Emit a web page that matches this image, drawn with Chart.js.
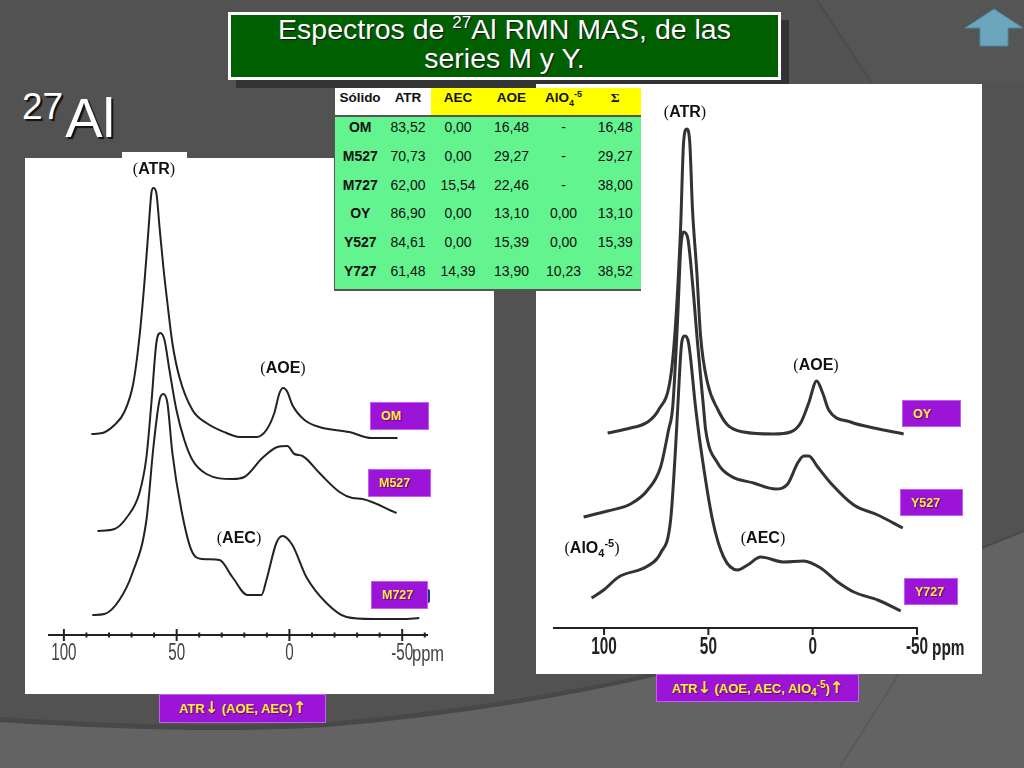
<!DOCTYPE html>
<html lang="es">
<head>
  <meta charset="UTF-8">
  <title>Espectros de 27Al RMN MAS</title>
  <script src="https://cdn.jsdelivr.net/npm/chart.js"></script>
  <style>
    html, body { margin: 0; padding: 0; }
    body { width: 1024px; height: 768px; background: #525252; position: relative; overflow: hidden;
           font-family: "Liberation Sans", Arial, sans-serif; }
    .abs { position: absolute; }
    .deco { position: absolute; left: 0; top: 0; width: 1024px; height: 768px; }
    .panel { position: absolute; background: #fff; }
    .title { left: 228px; top: 12px; width: 547px; height: 62px; background: #006000; border: 3px solid #fff;
             box-shadow: 8px 8px 0 #333; color: #fff; text-align: center; font-size: 28.5px; line-height: 29px;
             text-shadow: 1px 1px 1px #111; }
    .title sup { font-size: 17px; line-height: 0; vertical-align: 11px; }
    .big { left: 22px; top: 87px; color: #fff; font-size: 56px; line-height: 62px; text-shadow: 2px 2px 1px #111; }
    .big sup { font-size: 37px; line-height: 0; vertical-align: 18px; margin-right: 2px; }
    .tag { position: absolute; background: #9b14d8; border: 1px solid #c65cf0; box-sizing: border-box; color: #ffec3c;
           font-weight: bold; font-size: 12.5px; text-shadow: 1px 1px 1px #5a0a70; display: flex; align-items: center; }
    .tag.c { justify-content: center; font-size: 13px; white-space: pre; }
    .tag sub, .tag sup { font-size: 10px; position: relative; vertical-align: baseline; }
    .tag sub { top: 3px; }
    .tag sup { top: -5px; }
    .tag b { font-size: 16px; line-height: 0; font-family: "DejaVu Sans", sans-serif; }
    .note { position: absolute; transform: translate(-50%, -50%); color: #111; font-weight: bold; font-size: 16px; white-space: nowrap; }
    .note i { font-family: "Liberation Serif", serif; font-style: normal; font-weight: normal; }
    .note sub, .note sup { font-size: 11px; line-height: 0; }
    .ppm { position: absolute; transform-origin: left center; transform: translateY(-50%) scaleX(0.75); }
    table { position: absolute; left: 334px; top: 88px; width: 307px; height: 203px; border-collapse: collapse; table-layout: fixed;
            font-size: 14px; color: #111; text-align: center; background: #63f490; box-shadow: inset 1px 0 #555; }
    th, td { padding: 0 0 8px 0; }
    thead th { background: #ffff00; font-size: 13.5px; height: 19px; border-bottom: 2px solid #555; }
    thead th.w { background: #fff; }
    tbody { border-left: 1px solid #555; border-bottom: 2px solid #555; }
    td.n { font-weight: bold; }
    table sub, table sup { font-size: 9px; line-height: 0; }
    canvas { position: absolute; display: block; }
  </style>
</head>
<body>

<svg class="deco" viewBox="0 0 1024 768">
  <polygon points="817,0 872,83 1024,83 1024,0" fill="#555"/>
  <line x1="817" y1="0" x2="872" y2="83" stroke="#4c4c4c" stroke-width="2"/>
  <path d="M0 717 Q200 730 327 722 Q500 707 653 673 Q820 607 982 547 L1024 530 L1024 768 L0 768 Z" fill="#484848"/>
  <path d="M0 722 Q200 735 327 727 Q500 712 653 677 Q820 610 982 549 L1024 532 L1024 768 L0 768 Z" fill="#636363"/>
  <path d="M840 767 Q870 720 900 672" fill="none" stroke="#5a5a5a" stroke-width="2"/>
</svg>

<!-- home arrow -->
<svg class="abs" style="left:965px;top:6px" width="59" height="42" viewBox="0 0 59 42">
  <polygon points="29,3 58,22 43,22 43,40 15,40 15,22 0,22" fill="#6ba6bd" stroke="#4d8aa0" stroke-width="1"/>
</svg>

<div class="abs title">Espectros de <sup>27</sup>Al RMN MAS, de las<br>series M y Y.</div>
<div class="abs big"><sup>27</sup>Al</div>

<div class="panel" style="left:25px;top:158px;width:469px;height:536px"></div>
<div class="panel" style="left:122px;top:152px;width:65px;height:8px"></div>
<div class="panel" style="left:536px;top:84px;width:446px;height:590px"></div>

<canvas id="leftChart" width="469" height="536" style="left:25px;top:158px"></canvas>
<canvas id="rightChart" width="446" height="590" style="left:536px;top:84px"></canvas>

<table id="dataTable"><thead></thead><tbody></tbody></table>

<div class="note" style="left:154px;top:169px"><i>(</i>ATR<i>)</i></div>
<div class="note" style="left:283px;top:368px"><i>(</i>AOE<i>)</i></div>
<div class="note" style="left:239px;top:538px"><i>(</i>AEC<i>)</i></div>
<div class="note" style="left:685px;top:112px"><i>(</i>ATR<i>)</i></div>
<div class="note" style="left:816px;top:365px"><i>(</i>AOE<i>)</i></div>
<div class="note" style="left:763px;top:538px"><i>(</i>AEC<i>)</i></div>
<div class="note" style="left:592px;top:548px"><i>(</i>AlO<sub>4</sub><sup>-5</sup><i>)</i></div>

<div class="ppm" style="left:412px;top:654px;font-size:22px;color:#444">ppm</div>
<div class="ppm" style="left:932px;top:648px;font-size:22px;font-weight:bold;color:#222;transform:translateY(-50%) scaleX(0.7)">ppm</div>

<div class="abs" style="left:428px;top:589px;width:2px;height:14px;border-radius:0 3px 3px 0;background:#123a80"></div>
<div class="tag" style="left:370px;top:402px;width:59px;height:28px;padding-left:10px">OM</div>
<div class="tag" style="left:368px;top:469px;width:63px;height:28px;padding-left:10px">M527</div>
<div class="tag" style="left:371px;top:581px;width:57px;height:28px;padding-left:10px">M727</div>
<div class="tag" style="left:902px;top:400px;width:59px;height:27px;padding-left:10px">OY</div>
<div class="tag" style="left:900px;top:489px;width:63px;height:27px;padding-left:10px">Y527</div>
<div class="tag" style="left:904px;top:578px;width:54px;height:27px;padding-left:10px">Y727</div>
<div class="tag c" style="left:159px;top:694px;width:167px;height:29px"><span>ATR<b>↓</b> (AOE, AEC)<b>↑</b></span></div>
<div class="tag c" style="left:656px;top:674px;width:203px;height:28px"><span>ATR<b>↓</b> (AOE, AEC, AlO<sub>4</sub><sup>-5</sup>)<b>↑</b></span></div>

<script>
  // Left spectra: chemical shift (ppm) and relative intensity
  const omPpm = [87.8, 82.9, 77.6, 73.2, 69.2, 66.5, 64.3, 62.5, 61.2, 60.3, 59.0, 57.6, 55.9, 54.1, 51.9, 48.8, 43.0, 36.8, 27.9, 22.2, 14.6, 10.2, 6.7, 4.4, 2.7, 0.9, -1.3, -6.7, -13.3, -26.6, -36.4, -47.9];
  const omInt = [201, 202, 210, 223, 252, 298, 352, 405, 442, 447, 442, 408, 368, 332, 292, 258, 225, 212, 202, 198, 198, 205, 222, 242, 247, 243, 230, 215, 208, 203, 197, 197];

  const m527Ppm = [85.1, 77.6, 72.3, 66.5, 63.4, 61.2, 59.0, 57.2, 55.4, 53.2, 50.1, 46.6, 43.0, 36.8, 25.3, 20.0, 12.0, 5.3, 0.9, -2.2, -5.8, -13.3, -22.2, -27.9, -32.4, -47.5];
  const m527Int = [104, 106, 117, 142, 178, 232, 292, 302, 295, 265, 225, 195, 175, 161, 156, 158, 177, 188, 189, 181, 179, 162, 143, 137, 136, 122];

  const m727Ppm = [87.4, 82.0, 75.4, 69.6, 63.4, 60.3, 57.6, 55.9, 54.1, 51.9, 47.9, 43.5, 38.6, 31.0, 25.3, 18.6, 12.4, 10.2, 5.8, 3.1, -1.3, -7.5, -16.4, -25.3, -36.8, -50.1, -57.6];
  const m727Int = [20, 21, 35, 62, 115, 188, 235, 241, 232, 182, 125, 85, 76, 75, 58, 40, 40, 55, 92, 99, 90, 58, 32, 18, 16, 16, 17];

  // Right spectra
  const oyPpm = [98.3, 87.3, 79.1, 73.9, 68.1, 65.7, 63.3, 61.9, 60.4, 59.0, 57.6, 55.6, 53.7, 50.4, 45.6, 40.8, 33.1, 18.7, 10.6, 5.8, 1.9, -1.9, -4.8, -7.7, -18.2, -29.3, -43.6];
  const oyInt = [195, 200, 206, 218, 251, 305, 401, 485, 499, 488, 418, 358, 291, 245, 219, 203, 196, 194, 196, 205, 225, 247, 235, 218, 206, 200, 194];

  const y527Ppm = [109.8, 98.3, 87.3, 79.1, 72.9, 69.1, 67.1, 64.7, 63.3, 61.9, 60.0, 57.6, 55.2, 52.3, 51.3, 45.6, 39.3, 28.3, 17.7, 12.0, 7.2, 4.3, 1.9, -2.4, -8.6, -19.7, -31.2, -43.2];
  const y527Int = [111, 117, 124, 138, 161, 198, 221, 311, 378, 396, 391, 345, 285, 220, 198, 165, 152, 145, 139, 144, 165, 172, 172, 161, 145, 123, 113, 100];

  const y727Ppm = [106.0, 100.2, 93.0, 79.1, 72.9, 68.1, 65.7, 64.7, 62.8, 61.4, 59.5, 56.1, 53.7, 48.0, 42.7, 36.0, 31.2, 24.9, 13.9, 4.3, -3.8, -12.0, -19.7, -31.2, -42.2];
  const y727Int = [30, 38, 51, 62, 75, 108, 181, 220, 285, 292, 285, 220, 181, 108, 71, 58, 63, 71, 66, 67, 60, 46, 36, 28, 17];

  // Axis ticks
  const leftTicks = [100, 90, 80, 70, 60, 50, 40, 30, 20, 10, 0, -10, -20, -30, -40, -50, -60];
  const rightTicks = [100, 50, 0, -50];

  // Table
  const tableSolids = ['OM', 'M527', 'M727', 'OY', 'Y527', 'Y727'];
  const tableAtr = ['83,52', '70,73', '62,00', '86,90', '84,61', '61,48'];
  const tableAec = ['0,00', '0,00', '15,54', '0,00', '0,00', '14,39'];
  const tableAoe = ['16,48', '29,27', '22,46', '13,10', '15,39', '13,90'];
  const tableAlo = ['-', '-', '-', '0,00', '0,00', '10,23'];
  const tableSum = ['16,48', '29,27', '38,00', '13,10', '15,39', '38,52'];

  document.querySelector('#dataTable thead').innerHTML = `<tr>
    <th class="w" style="width:51px">Sólido</th><th class="w" style="width:45px">ATR</th>
    <th style="width:55px">AEC</th><th style="width:52px">AOE</th>
    <th style="width:52px">AlO<sub>4</sub><sup>-5</sup></th><th style="font-family:'Liberation Serif',serif">Σ</th></tr>`;
  const tableBody = document.querySelector('#dataTable tbody');
  tableSolids.forEach((name, i) => {
    const row = document.createElement('tr');
    row.innerHTML = `
      <td class="n">${name}</td>
      <td>${tableAtr[i]}</td>
      <td>${tableAec[i]}</td>
      <td>${tableAoe[i]}</td>
      <td>${tableAlo[i]}</td>
      <td>${tableSum[i]}</td>
    `;
    tableBody.appendChild(row);
  });

  function pairs(xs, ys) {
    return xs.map((x, i) => ({ x: x, y: ys[i] }));
  }

  // Tick marks crossing the axis line, and squeezed labels on the 50 ppm ticks
  const axisMarks = {
    id: 'axisMarks',
    afterDraw(chart, args, opts) {
      const ctx = chart.ctx;
      const scale = chart.scales.x;
      const base = chart.chartArea.bottom;
      ctx.save();
      ctx.strokeStyle = opts.color;
      ctx.lineWidth = 2;
      ctx.fillStyle = opts.labelColor;
      ctx.font = opts.labelFont;
      ctx.textAlign = 'center';
      ctx.textBaseline = 'middle';
      scale.ticks.forEach(t => {
        const major = t.value % 50 === 0;
        const px = scale.getPixelForValue(t.value);
        ctx.beginPath();
        ctx.moveTo(px, base - (major ? opts.majorUp : opts.minorLen));
        ctx.lineTo(px, base + (major ? opts.majorDown : opts.minorLen));
        ctx.stroke();
        if (major) {
          ctx.save();
          ctx.translate(px, base + 19);
          ctx.scale(opts.squeeze, 1);
          ctx.fillText(String(t.value), 0, 0);
          ctx.restore();
        }
      });
      ctx.restore();
    }
  };

  function spectrumChart(id, sets, o) {
    return new Chart(document.getElementById(id).getContext('2d'), {
      type: 'line',
      data: {
        datasets: sets.map(s => ({
          data: s,
          borderColor: o.lineColor,
          borderWidth: o.lineWidth,
          pointRadius: 0,
          cubicInterpolationMode: 'monotone',
          fill: false
        }))
      },
      options: {
        responsive: false,
        animation: false,
        devicePixelRatio: 1,
        layout: { padding: { left: o.padLeft, right: o.padRight } },
        plugins: {
          legend: { display: false },
          tooltip: { enabled: false },
          axisMarks: {
            color: o.axisColor, majorUp: o.majorUp, majorDown: o.majorDown, minorLen: 2.5,
            labelColor: o.labelColor, labelFont: o.labelFont, squeeze: o.squeeze
          }
        },
        scales: {
          x: {
            type: 'linear',
            reverse: true,
            min: o.xMin,
            max: o.xMax,
            afterBuildTicks: axis => { axis.ticks = o.ticks.map(v => ({ value: v })); },
            afterFit: axis => { axis.height = o.axisHeight; },
            grid: { display: false, drawTicks: false },
            border: { display: true, color: o.axisColor, width: 2 },
            ticks: { display: false }
          },
          y: { display: false, min: 0, max: o.yMax }
        }
      },
      plugins: [axisMarks]
    });
  }

  spectrumChart('leftChart', [pairs(omPpm, omInt), pairs(m527Ppm, m527Int), pairs(m727Ppm, m727Int)], {
    lineColor: '#222', lineWidth: 2, axisColor: '#222', labelColor: '#444', labelFont: '23px "Liberation Sans"', squeeze: 0.66,
    padLeft: 24, padRight: 67, xMin: -61, xMax: 106.6, ticks: leftTicks, axisHeight: 59, yMax: 477,
    majorUp: 6, majorDown: 6
  });

  spectrumChart('rightChart', [pairs(oyPpm, oyInt), pairs(y527Ppm, y527Int), pairs(y727Ppm, y727Int)], {
    lineColor: '#333', lineWidth: 3, axisColor: '#222', labelColor: '#222', labelFont: 'bold 24px "Liberation Sans"', squeeze: 0.64,
    padLeft: 18, padRight: 65, xMin: -50, xMax: 124, ticks: rightTicks, axisHeight: 46, yMax: 544,
    majorUp: 0, majorDown: 7
  });
</script>
</body>
</html>
